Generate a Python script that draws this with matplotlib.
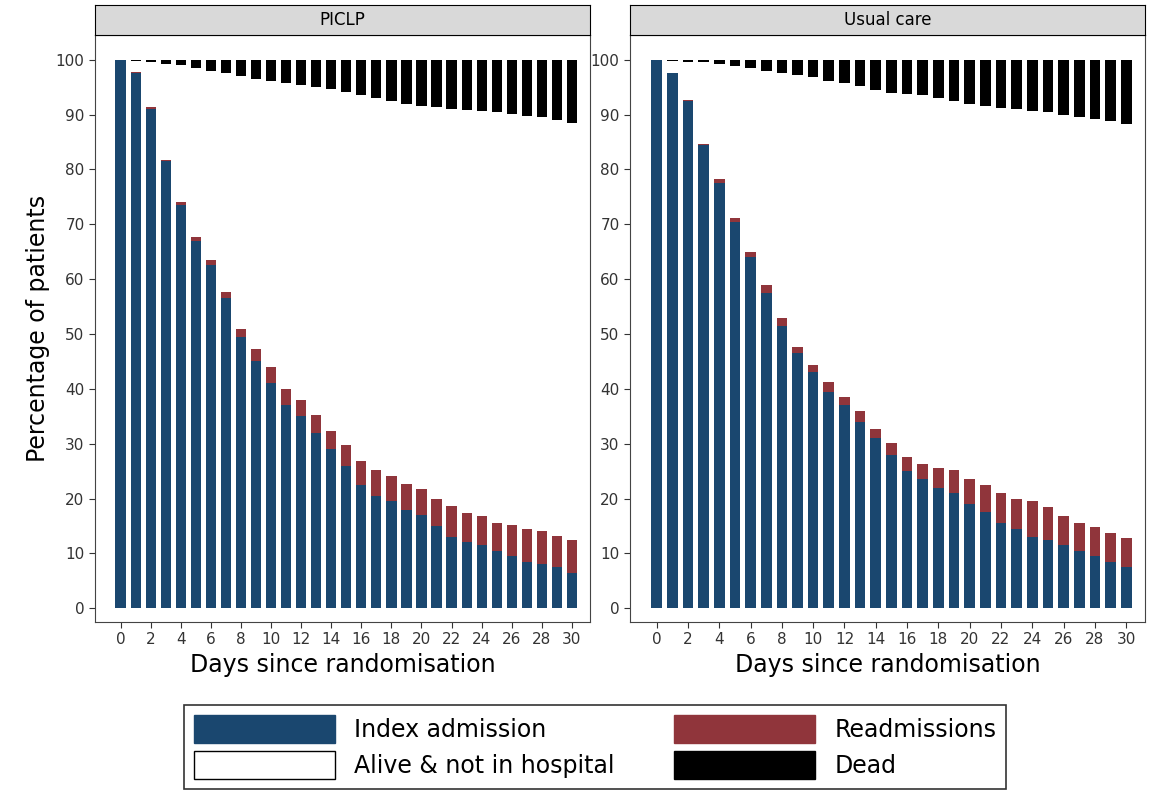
import numpy as np
import matplotlib.pyplot as plt
from matplotlib.patches import Patch

days = np.arange(31)

piclp_index = [100, 97.5, 91, 81.5, 73.5, 67, 62.5, 56.5, 49.5, 45, 41, 37, 35, 32, 29, 26,
               22.5, 20.5, 19.5, 18, 17, 15, 13, 12, 11.5, 10.5, 9.5, 8.5, 8, 7.5, 6.5]
piclp_total = [100, 97.7, 91.3, 81.8, 74, 67.7, 63.4, 57.6, 51, 47.3, 44, 40, 38, 35.2, 32.3, 29.7,
               26.8, 25.2, 24.2, 22.6, 21.8, 19.9, 18.6, 17.3, 16.9, 15.6, 15.2, 14.5, 14.1, 13.1, 12.4]
piclp_dead = [0, 0.3, 0.5, 0.7, 1, 1.5, 2, 2.5, 3, 3.5, 3.8, 4.2, 4.6, 5, 5.3, 5.8,
              6.5, 7, 7.5, 8, 8.5, 8.7, 8.9, 9.1, 9.3, 9.6, 9.9, 10.2, 10.5, 11, 11.5]

usual_index = [100, 97.5, 92.5, 84.5, 77.5, 70.5, 64, 57.5, 51.5, 46.5, 43, 39.5, 37, 34, 31, 28,
               25, 23.5, 22, 21, 19, 17.5, 15.5, 14.5, 13, 12.5, 11.5, 10.5, 9.5, 8.5, 7.5]
usual_total = [100, 97.6, 92.6, 84.7, 78.3, 71.2, 65, 59, 53, 47.7, 44.3, 41.2, 38.5, 36, 32.6, 30.2,
               27.6, 26.3, 25.6, 25.2, 23.6, 22.4, 21, 20, 19.5, 18.4, 16.8, 15.6, 14.9, 13.8, 12.8]
usual_dead = [0, 0.2, 0.4, 0.5, 0.8, 1.2, 1.6, 2, 2.4, 2.8, 3.2, 3.8, 4.2, 4.8, 5.5, 6,
              6.2, 6.5, 7, 7.5, 8, 8.5, 8.8, 9, 9.3, 9.6, 10, 10.4, 10.8, 11.2, 11.8]

panels = [("PICLP", piclp_index, piclp_total, piclp_dead),
          ("Usual care", usual_index, usual_total, usual_dead)]

BLUE = '#1a476f'
RED = '#90353b'

fig = plt.figure(figsize=(11.53, 8.1), dpi=100)
W, H = 1153, 810
boxes = [(95, 590), (630, 1145)]
top, bottom = 35, 622

for (title, idx, tot, dead), (x0, x1) in zip(panels, boxes):
    ax = fig.add_axes([x0 / W, 1 - bottom / H, (x1 - x0) / W, (bottom - top) / H])
    idx = np.array(idx); tot = np.array(tot); dead = np.array(dead)
    ax.bar(days, idx, width=0.68, color=BLUE)
    ax.bar(days, tot - idx, bottom=idx, width=0.68, color=RED)
    ax.bar(days, dead, bottom=100 - dead, width=0.68, color='black')
    ax.set_xlim(-1.7, 31.2)
    ax.set_ylim(-2.5, 104.5)
    ax.set_xticks(np.arange(0, 31, 2))
    ax.set_yticks(np.arange(0, 101, 10))
    ax.tick_params(labelsize=11, colors='#333333', length=4)
    for s in ax.spines.values():
        s.set_color('#444444')
    ax.set_xlabel('Days since randomisation', fontsize=17)
    if x0 < 600:
        ax.set_ylabel('Percentage of patients', fontsize=17)
    # header strip
    hx = fig.add_axes([x0 / W, 1 - top / H, (x1 - x0) / W, 30 / H])
    hx.set_facecolor('#d9d9d9')
    hx.set_xticks([]); hx.set_yticks([])
    hx.text(0.5, 0.5, title, ha='center', va='center', fontsize=12, transform=hx.transAxes)

handles = [Patch(facecolor=BLUE, edgecolor=BLUE), Patch(facecolor=RED, edgecolor=RED),
           Patch(facecolor='white', edgecolor='black'), Patch(facecolor='black', edgecolor='black')]
labels = ['Index admission', 'Readmissions', 'Alive & not in hospital', 'Dead']
order = [0, 2, 1, 3]
leg = fig.legend([handles[i] for i in order], [labels[i] for i in order], ncol=2,
                 loc='center', bbox_to_anchor=(595 / W, 1 - 747 / H), fontsize=17,
                 handlelength=6, handleheight=1.5, columnspacing=2.5, fancybox=False,
                 edgecolor='black', borderpad=0.4, labelspacing=0.3)
leg.get_frame().set_linewidth(1.2)

fig.savefig('out.png', dpi=100)
